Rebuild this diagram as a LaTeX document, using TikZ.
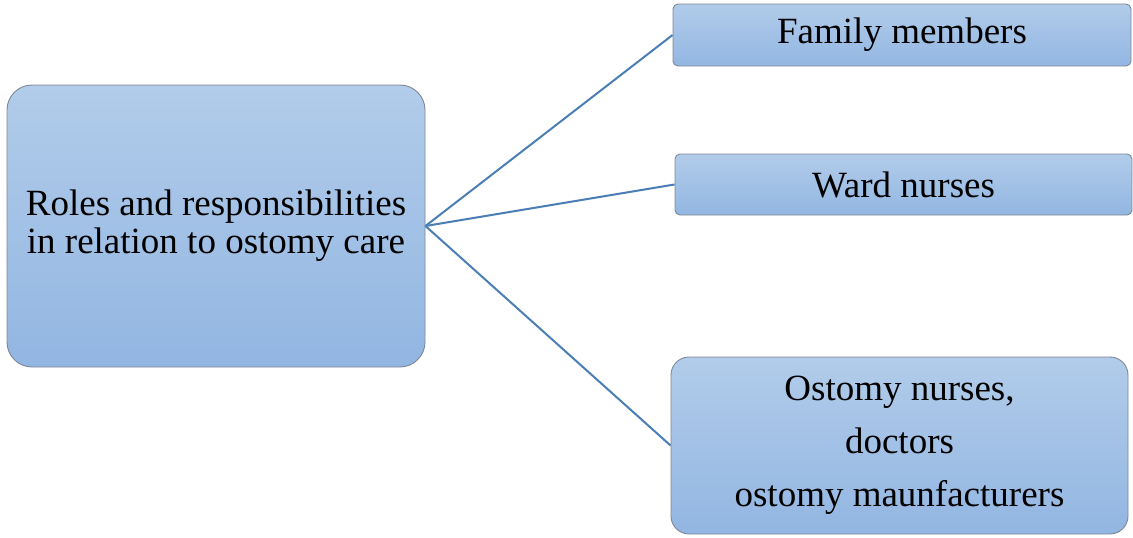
\documentclass[tikz,border=0pt]{standalone}
\usepackage{fontspec}
\setmainfont{Liberation Serif}
\begin{document}
\begin{tikzpicture}[x=1pt,y=-1pt,
  box/.style={draw=boxedge,line width=0.9pt,top color=topc,bottom color=botc,inner sep=0pt,align=center,font=\fontsize{37}{38}\selectfont},
  link/.style={draw=linkc,line width=2pt}]
\definecolor{topc}{HTML}{B2CCEA}
\definecolor{botc}{HTML}{92B6E2}
\definecolor{boxedge}{HTML}{7D8896}
\definecolor{linkc}{HTML}{4A7EB4}
\useasboundingbox (0,0) rectangle (1133,538);
\node[box,rounded corners=25pt,minimum width=418pt,minimum height=282pt] (main) at (216,226) {Roles and responsibilities\\in relation to ostomy care};
\node[box,rounded corners=5pt,minimum width=458pt,minimum height=62pt] (fam) at (902,35) {Family members};
\node[box,rounded corners=5pt,minimum width=457pt,minimum height=61pt] (ward) at (903.5,184.5) {Ward nurses};
\node[box,rounded corners=18pt,minimum width=457pt,minimum height=177pt,font=\fontsize{37}{53}\selectfont] (ost) at (899.5,445.5) {Ostomy nurses,\\doctors\\ostomy maunfacturers};
\draw[link] (main.east) -- (fam.west);
\draw[link] (main.east) -- (ward.west);
\draw[link] (main.east) -- (ost.west);
\end{tikzpicture}
\end{document}
